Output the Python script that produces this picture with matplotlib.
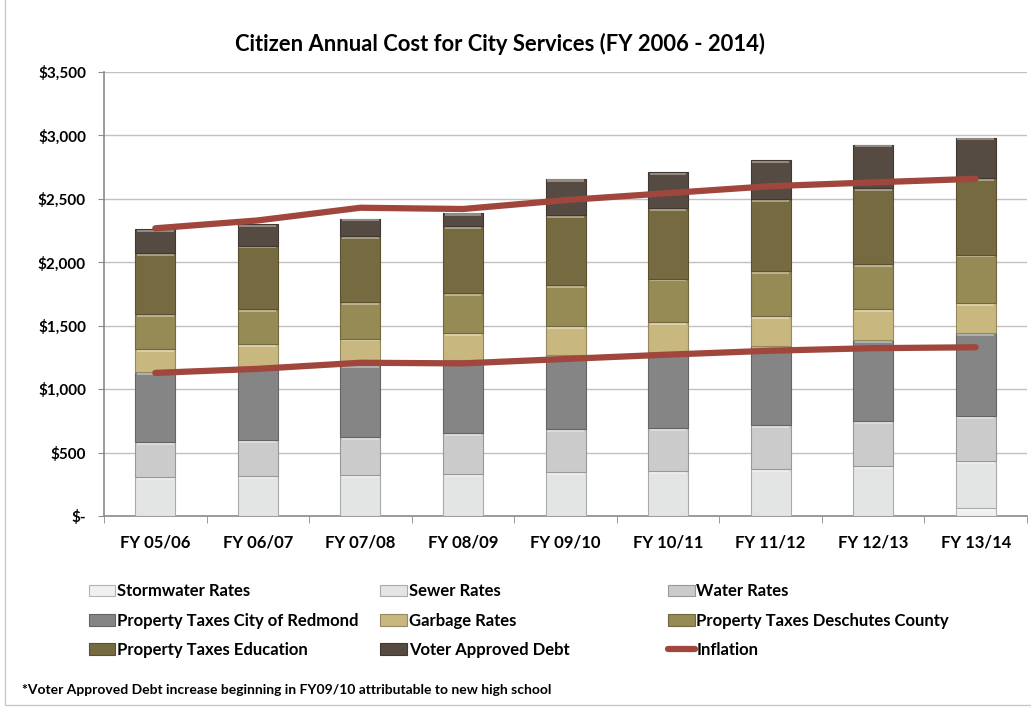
import matplotlib
matplotlib.use('Agg')
import matplotlib.pyplot as plt
import matplotlib.colors as mcolors
import numpy as np
from matplotlib.patches import Patch, Rectangle
from matplotlib.lines import Line2D

plt.rcParams['font.family'] = ['Lato', 'DejaVu Sans']
plt.rcParams['font.weight'] = 'bold'

# Fiscal years and per-citizen annual cost components ($)
years = ['FY 05/06', 'FY 06/07', 'FY 07/08', 'FY 08/09', 'FY 09/10',
         'FY 10/11', 'FY 11/12', 'FY 12/13', 'FY 13/14']
stormwater = [0, 0, 0, 0, 0, 0, 0, 0, 65]
sewer = [306, 315, 323, 333, 346, 354, 368, 394, 368]
water = [276, 283, 299, 318, 336, 336, 349, 354, 354]
redmond = [551, 577, 567, 575, 585, 603, 622, 638, 656]
garbage = [184, 181, 210, 218, 228, 236, 236, 242, 236]
county = [276, 278, 286, 315, 328, 342, 354, 359, 381]
education = [480, 498, 520, 525, 546, 556, 569, 598, 603]
debt = [189, 168, 139, 105, 289, 283, 305, 342, 320]

# Inflation-adjusted reference lines
inflation_total = [2268, 2330, 2430, 2420, 2490, 2545, 2600, 2630, 2658]
inflation_city = [1128, 1160, 1208, 1203, 1238, 1272, 1303, 1323, 1330]

series = [
    ('Stormwater Rates', stormwater, '#f0f0f0'),
    ('Sewer Rates', sewer, '#e3e4e4'),
    ('Water Rates', water, '#cbcbcb'),
    ('Property Taxes City of Redmond', redmond, '#858585'),
    ('Garbage Rates', garbage, '#c8b77e'),
    ('Property Taxes Deschutes County', county, '#968a55'),
    ('Property Taxes Education', education, '#766b40'),
    ('Voter Approved Debt', debt, '#564b42'),
]
LINE_COLOR = '#a0463c'
GRID_COLOR = '#c4c0c0'
AXIS_COLOR = '#8a8a8a'


def shade(color, amount):
    # amount > 0 lightens toward white, < 0 darkens toward black
    c = np.array(mcolors.to_rgb(color))
    if amount > 0:
        return tuple(c + (1 - c) * amount)
    return tuple(c * (1 + amount))


fig = plt.figure(figsize=(10.31, 7.08), dpi=100)
ax = fig.add_axes([0.1009, 0.2712, 0.8952, 0.6271])

x = np.arange(len(years))
width = 0.39
bottom = np.zeros(len(years))
handles = []
for name, vals, color in series:
    vals = np.array(vals, dtype=float)
    ax.bar(x, vals, width, bottom=bottom, color=color,
           edgecolor=shade(color, -0.25), linewidth=0.8, zorder=3)
    # bevel highlight along the top of every segment
    band = np.minimum(vals, 22)
    ax.bar(x, band * 0.8, width * 0.92, bottom=bottom + vals - band,
           color=shade(color, 0.35), linewidth=0, zorder=3)
    bottom += vals
    handles.append(Patch(facecolor=color, edgecolor=shade(color, -0.25),
                         linewidth=0.8, label=name))

ax.plot(x, inflation_total, color=LINE_COLOR, lw=4.5,
        solid_capstyle='round', zorder=4)
ax.plot(x, inflation_city, color=LINE_COLOR, lw=4.5,
        solid_capstyle='round', zorder=4)
handles.append(Line2D([0], [0], color=LINE_COLOR, lw=4.5,
                      solid_capstyle='round', label='Inflation'))

ax.set_xlim(-0.5, len(years) - 0.5)
ax.set_ylim(0, 3500)
ax.set_yticks(np.arange(0, 3501, 500))
ax.set_yticklabels(['$-'] + ['${:,}'.format(v) for v in range(500, 3501, 500)])
ax.set_xticks(x)
ax.set_xticklabels(years)
ax.set_xticks(np.arange(-0.5, len(years)), minor=True)
ax.tick_params(axis='x', which='major', length=0, pad=13, labelsize=12)
ax.tick_params(axis='x', which='minor', length=5, color=AXIS_COLOR)
ax.tick_params(axis='y', length=4, color=AXIS_COLOR, pad=9, labelsize=11)
ax.yaxis.grid(True, color=GRID_COLOR, lw=1, zorder=0)
ax.set_axisbelow(True)
for s in ['top', 'right']:
    ax.spines[s].set_visible(False)
for s in ['left', 'bottom']:
    ax.spines[s].set_color(AXIS_COLOR)
    ax.spines[s].set_linewidth(1.2)

fig.text(0.485, 0.938, 'Citizen Annual Cost for City Services (FY 2006 - 2014)',
         ha='center', va='center', fontsize=15.8, fontweight='bold')

# legend laid out row by row in three fixed columns
col_x = [0.086, 0.369, 0.648]
for col in range(3):
    hs = handles[col::3]
    leg = fig.legend(handles=hs, loc='upper left',
                     bbox_to_anchor=(col_x[col], 0.176), frameon=False,
                     fontsize=12, handlelength=1.6, handleheight=0.7,
                     handletextpad=0.1, labelspacing=0.8, borderpad=0,
                     borderaxespad=0)
    for t in leg.get_texts():
        t.set_fontweight('bold')

fig.text(0.021, 0.025,
         '*Voter Approved Debt increase beginning in FY09/10 attributable to new high school',
         ha='left', va='center', fontsize=10, fontweight='bold')

fig.add_artist(Rectangle((0.005, 0.004), 1.2, 1.2, transform=fig.transFigure,
                         fill=False, edgecolor='#c8c8c8', lw=1))

fig.savefig('out.png', dpi=100)
